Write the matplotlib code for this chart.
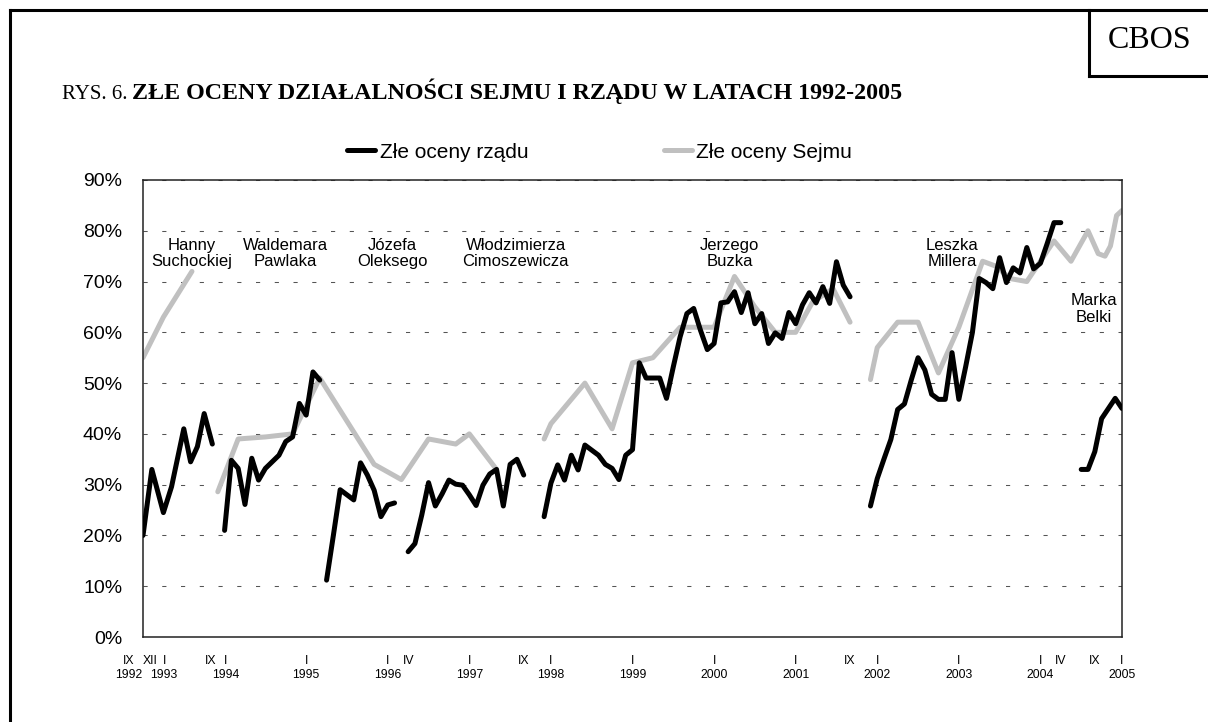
import matplotlib.pyplot as plt
from matplotlib.lines import Line2D
from matplotlib.ticker import FuncFormatter

# x = kolejny miesiąc badania (0 = IX 1992, 12 = I 1994, 144 = I 2005)
rzad_x = [
    [0, 1.3, 3, 4.2, 6, 7, 8, 9, 10.2],
    list(range(12, 27)),
    list(range(27, 38)),
    list(range(39, 57)),
    list(range(59, 105)),
    list(range(107, 136)),
    list(range(138, 145)),
]
rzad_y = [
    [20, 33, 24.5, 29.6, 41, 34.5, 37.5, 44, 38],
    [21, 34.8, 33.2, 26.1, 35.2, 30.9, 33.2, 34.5, 35.8, 38.5, 39.4, 46, 43.7, 52.2, 50.6],
    [11.2, 20, 29, 28, 27, 34.3, 31.9, 28.9, 23.7, 26, 26.4],
    [16.8, 18.4, 24, 30.4, 25.8, 28.2, 30.9, 30.1, 29.9, 28, 25.9, 29.9, 32.1, 33, 25.8,
     34, 35, 31.9],
    [23.7, 30.3, 33.9, 30.9, 35.8, 32.9, 37.8, 36.8, 35.8, 34, 33.2, 31, 35.8, 36.9, 54,
     51, 51, 51, 47, 53.2, 59.1, 63.7, 64.7, 60.4, 56.6, 57.8, 65.8, 66, 68, 63.9, 67.8,
     61.7, 63.7, 57.8, 59.9, 58.8, 63.9, 61.7, 65.4, 67.8, 65.8, 69, 65.7, 73.9, 69.3, 67],
    [25.8, 31.2, 35.1, 38.9, 44.8, 45.9, 50.6, 55, 52.6, 47.8, 46.8, 46.8, 56, 46.8, 53.2,
     60, 70.6, 69.8, 68.6, 74.7, 69.8, 72.7, 71.7, 76.7, 72.5, 73.6, 77.5, 81.6, 81.6],
    [33, 33, 36.5, 43, 45, 47, 45],
]

sejm_x = [
    [0, 3, 7.2],
    [11, 14, 18, 22, 26, 30, 34, 38, 42, 46, 48, 52],
    [59, 60, 65, 69, 72, 75, 79, 84, 87, 90, 93, 96, 98.5, 101.5, 104],
    [107, 108, 111, 114, 117, 120, 123.5, 125.5, 127.5, 130, 134, 136.5, 139, 140.5,
     141.5, 142.3, 143.2, 144],
]
sejm_y = [
    [55, 63, 72],
    [28.6, 39, 39.4, 40, 51, 42.5, 34, 31, 39, 38, 40, 33],
    [39, 42, 50, 41, 54, 55, 61, 61, 71, 65, 60, 60, 66, 68.6, 62],
    [50.7, 57, 62, 62, 52, 61, 74, 73, 70.6, 70, 78, 74, 80, 75.5, 75, 77, 83, 84],
]

tick_pos = [-2.1, 1.1, 3.1, 10, 12.1, 24, 36, 39, 48, 56, 60, 72, 84, 96, 104, 108,
            120, 132, 135, 140, 144]
tick_mies = ['IX', 'XII', 'I', 'IX', 'I', 'I', 'I', 'IV', 'I', 'IX', 'I', 'I', 'I', 'I',
             'IX', 'I', 'I', 'I', 'IV', 'IX', 'I']
tick_rok = ['1992', '', '1993', '', '1994', '1995', '1996', '', '1997', '', '1998', '1999',
            '2000', '2001', '', '2002', '2003', '2004', '', '', '2005']

rzady = ['Hanny\nSuchockiej', 'Waldemara\nPawlaka', 'Józefa\nOleksego',
         'Włodzimierza\nCimoszewicza', 'Jerzego\nBuzka', 'Leszka\nMillera', 'Marka\nBelki']
rzady_x = [7.1, 21, 36.7, 54.8, 86.3, 119, 139.9]
rzady_y = [75.6, 75.6, 75.6, 75.6, 75.6, 75.6, 64.6]

sans = ['Liberation Sans', 'DejaVu Sans']
serif = ['Liberation Serif', 'DejaVu Serif']

W, H = 1208, 722
fig = plt.figure(figsize=(W / 100, H / 100), dpi=100)
ax = fig.add_axes([143 / W, 1 - 637 / H, (1122 - 143) / W, (637 - 180) / H])

GRAY = '#c0c0c0'
for xs, ys in zip(sejm_x, sejm_y):
    ax.plot(xs, ys, color=GRAY, lw=3.6, solid_capstyle='round', solid_joinstyle='round',
            zorder=2)
for xs, ys in zip(rzad_x, rzad_y):
    ax.plot(xs, ys, color='black', lw=3.6, solid_capstyle='round', solid_joinstyle='round',
            zorder=3)

ax.set_xlim(0, 144)
ax.set_ylim(0, 90)
ax.set_yticks(range(0, 91, 10))
ax.yaxis.set_major_formatter(FuncFormatter(lambda v, p: '%d%%' % v))
ax.tick_params(axis='y', length=0, pad=15, labelsize=14)
for t in ax.get_yticklabels():
    t.set_fontfamily(sans)
ax.set_xticks([])
ax.grid(axis='y', color='#555555', lw=0.75, linestyle=(0, (4, 14)))
ax.set_axisbelow(True)
for s in ax.spines.values():
    s.set_linewidth(1.1)
    s.set_color('#222222')

for x, m, r in zip(tick_pos, tick_mies, tick_rok):
    ax.annotate(m, xy=(x, 0), xycoords=('data', 'axes fraction'), xytext=(0, -17),
                textcoords='offset points', ha='center', va='center', fontsize=8.8,
                family=sans, annotation_clip=False)
    if r:
        ax.annotate(r, xy=(x, 0), xycoords=('data', 'axes fraction'), xytext=(0, -27.6),
                    textcoords='offset points', ha='center', va='center', fontsize=8.8,
                    family=sans, annotation_clip=False)

for name, x, y in zip(rzady, rzady_x, rzady_y):
    ax.text(x, y, name, ha='center', va='center', fontsize=12, family=sans,
            linespacing=1.1, zorder=4)

leg = ax.legend([Line2D([], [], color='black', lw=3.6, solid_capstyle='round'),
                 Line2D([], [], color=GRAY, lw=3.6, solid_capstyle='round')],
                ['Złe oceny rządu', 'Złe oceny Sejmu'], ncol=2, frameon=False,
                loc='center left', bbox_to_anchor=(347 / W, 1 - 152 / H),
                bbox_transform=fig.transFigure, borderpad=0, borderaxespad=0,
                handlelength=1.35, handletextpad=0.22, columnspacing=6.5,
                prop={'family': sans, 'size': 15})

# tytuł
t1 = fig.text(62 / W, 1 - 99 / H, 'RYS. 6.', fontsize=15, family=serif, va='baseline')
fig.canvas.draw()
bb = t1.get_window_extent()
fig.text((bb.x1 + 5) / W, 1 - 99 / H,
         'ZŁE OCENY DZIAŁALNOŚCI SEJMU I RZĄDU W LATACH 1992-2005',
         fontsize=17.3, family=serif, weight='bold', va='baseline')

fig.text(1150 / W, 1 - 41 / H, 'CBOS', fontsize=23, family=serif, ha='center', va='center')

# ramka strony i ramka CBOS
frame = dict(transform=fig.transFigure, color='black', lw=2.2)
fig.add_artist(Line2D([10 / W, 10 / W], [0, 1 - 10 / H], **frame))
fig.add_artist(Line2D([10 / W, 1], [1 - 10 / H, 1 - 10 / H], **frame))
fig.add_artist(Line2D([1089 / W, 1089 / W], [1 - 10 / H, 1 - 76 / H], **frame))
fig.add_artist(Line2D([1089 / W, 1], [1 - 76 / H, 1 - 76 / H], **frame))

fig.savefig('out.png', dpi=100)
